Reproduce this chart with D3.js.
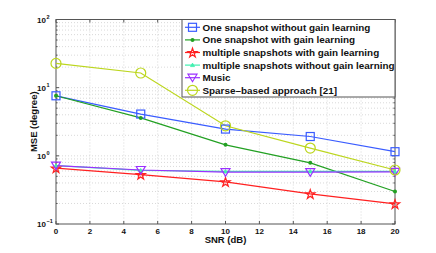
<!DOCTYPE html>
<html><head><meta charset="utf-8">
<script src="https://cdn.jsdelivr.net/npm/d3@7"></script>
<style>body{margin:0;background:#fff;} svg{display:block;font-family:"Liberation Sans",Arial,sans-serif;}</style>
</head><body><svg id="c" width="436" height="253"></svg>
<script>
const snr = [0, 5, 10, 15, 20];
const oneNoGain = [7.6, 4.1, 2.47, 1.92, 1.15];
const oneGain = [7.6, 3.6, 1.45, 0.79, 0.30];
const multiGain = [0.66, 0.53, 0.415, 0.276, 0.197];
const multiNoGain = [0.72, 0.61, 0.59, 0.59, 0.59];
const music = [0.72, 0.62, 0.575, 0.575, 0.58];
const sparse = [22.7, 16.4, 2.76, 1.30, 0.62];
const seriesNames = ["One snapshot without gain learning","One snapshot with gain learning","multiple snapshots with gain learning","multiple snapshots without gain learning","Music","Sparse\u2013based approach [21]"];
const xTicks = [0,2,4,6,8,10,12,14,16,18,20];
const yExp = [-1,0,1,2];

const series = [
 {name: seriesNames[0], v: oneNoGain, color:"#3a5cff", marker:"square"},
 {name: seriesNames[1], v: oneGain, color:"#22a022", marker:"dot"},
 {name: seriesNames[2], v: multiGain, color:"#ff2020", marker:"star"},
 {name: seriesNames[3], v: multiNoGain, color:"#40f0b0", marker:"tri-up"},
 {name: seriesNames[4], v: music, color:"#9b30ff", marker:"tri-down"},
 {name: seriesNames[5], v: sparse, color:"#bcd61e", marker:"circle"}
];

const svg = d3.select("#c");
const L=56, R=395, T=19.5, B=224;
const x = d3.scaleLinear().domain([0,20]).range([L,R]);
const y = d3.scaleLog().domain([0.1,100]).range([B,T]);

// grid
const g = svg.append("g");
xTicks.forEach(t=>{ if(t>0 && t<20) g.append("line").attr("x1",x(t)).attr("x2",x(t)).attr("y1",T).attr("y2",B).attr("stroke","#c8c8c8").attr("stroke-width",0.7).attr("stroke-dasharray","1,2"); });
for(let e=-1;e<2;e++){ for(let m=1;m<10;m++){ const v=m*Math.pow(10,e); if(v<=0.1) continue; g.append("line").attr("x1",L).attr("x2",R).attr("y1",y(v)).attr("y2",y(v)).attr("stroke","#c8c8c8").attr("stroke-width",0.7).attr("stroke-dasharray","1,2"); } }

// frame
svg.append("rect").attr("x",L).attr("y",T).attr("width",R-L).attr("height",B-T).attr("fill","none").attr("stroke","#555").attr("stroke-width",1);
// ticks
xTicks.forEach(t=>{ svg.append("line").attr("x1",x(t)).attr("x2",x(t)).attr("y1",B).attr("y2",B-3).attr("stroke","#555");
 svg.append("line").attr("x1",x(t)).attr("x2",x(t)).attr("y1",T).attr("y2",T+3).attr("stroke","#555");
 svg.append("text").attr("x",x(t)).attr("y",B+9.5).attr("text-anchor","middle").attr("font-size",8).attr("font-weight","bold").attr("fill","#111").text(t); });
for(let e=-1;e<2;e++){ for(let m=1;m<10;m++){ const v=m*Math.pow(10,e); const len = m===1?3:1.6;
 svg.append("line").attr("x1",L).attr("x2",L+len).attr("y1",y(v)).attr("y2",y(v)).attr("stroke","#555");
 svg.append("line").attr("x1",R).attr("x2",R-len).attr("y1",y(v)).attr("y2",y(v)).attr("stroke","#555"); } }
yExp.forEach(e=>{ const tx = svg.append("text").attr("x",L-10).attr("y",y(Math.pow(10,e))+3).attr("text-anchor","end").attr("font-size",8).attr("font-weight","bold").attr("fill","#111");
 tx.append("tspan").text("10");
 svg.append("text").attr("x",L-9.5).attr("y",y(Math.pow(10,e))-1).attr("font-size",5.5).attr("font-weight","bold").attr("fill","#111").text(e===-1?"\u22121":e); });

svg.append("text").attr("x",(L+R)/2).attr("y",243).attr("text-anchor","middle").attr("font-size",9.5).attr("font-weight","bold").attr("fill","#111").text("SNR (dB)");
svg.append("text").attr("transform",`translate(37,${(T+B)/2}) rotate(-90)`).attr("text-anchor","middle").attr("font-size",9.5).attr("font-weight","bold").attr("fill","#111").text("MSE (degree)");

function drawMarker(sel, type, cx, cy, color){
 if(type==="square") sel.append("rect").attr("x",cx-4).attr("y",cy-4).attr("width",8).attr("height",8).attr("fill","none").attr("stroke",color).attr("stroke-width",1.2);
 else if(type==="dot") sel.append("circle").attr("cx",cx).attr("cy",cy).attr("r",2).attr("fill",color);
 else if(type==="circle") sel.append("circle").attr("cx",cx).attr("cy",cy).attr("r",5).attr("fill","none").attr("stroke",color).attr("stroke-width",1.2);
 else if(type==="star") sel.append("path").attr("d",d3.symbol(d3.symbolStar,26)()).attr("transform",`translate(${cx},${cy+0.5})`).attr("fill","none").attr("stroke",color).attr("stroke-width",1.2);
 else if(type==="tri-up") sel.append("path").attr("d",`M${cx},${cy-2}L${cx+2},${cy+1.5}L${cx-2},${cy+1.5}Z`).attr("fill",color).attr("stroke",color).attr("stroke-width",0.8);
 else if(type==="tri-down") sel.append("path").attr("d",`M${cx-4.5},${cy-3.5}L${cx+4.5},${cy-3.5}L${cx},${cy+4}Z`).attr("fill","none").attr("stroke",color).attr("stroke-width",1.2);
}

const line = d3.line().x((d,i)=>x(snr[i])).y(d=>y(d));
const plot = svg.append("g");
series.forEach(s=>{
 plot.append("path").attr("d",line(s.v)).attr("fill","none").attr("stroke",s.color).attr("stroke-width",1.2);
});
series.forEach(s=>{ s.v.forEach((d,i)=>drawMarker(plot,s.marker,x(snr[i]),y(d),s.color)); });

// legend
const lx=182, ly=T, lw=R-182, lh=77.5;
svg.append("rect").attr("x",lx).attr("y",ly).attr("width",lw).attr("height",lh).attr("fill","#fff").attr("stroke","#555").attr("stroke-width",1);
series.forEach((s,i)=>{
 const cy = ly+7.8+i*12.6;
 svg.append("line").attr("x1",lx+3).attr("x2",lx+18).attr("y1",cy).attr("y2",cy).attr("stroke",s.color).attr("stroke-width",1.2);
 drawMarker(svg,s.marker,lx+10.5,cy,s.color);
 svg.append("text").attr("x",lx+20.5).attr("y",cy+3.5).attr("font-size",9.9).attr("font-weight","bold").attr("fill","#111").text(s.name);
});
</script></body></html>
